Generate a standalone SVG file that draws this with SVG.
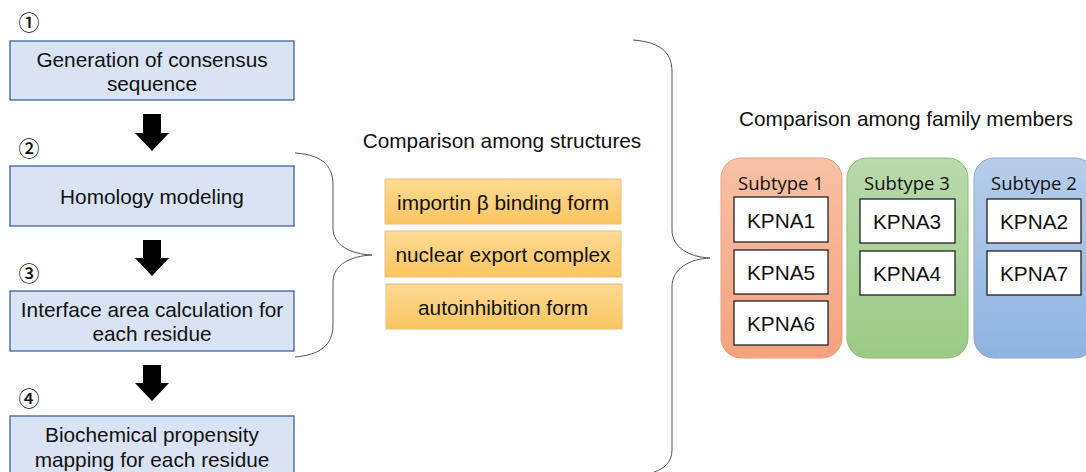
<svg xmlns="http://www.w3.org/2000/svg" width="1086" height="472" viewBox="0 0 1086 472">
<defs>
<style>
.step{fill:#dae3f3;stroke:#2f5597;stroke-width:1.2}
.t{font-family:"Liberation Sans",Arial,sans-serif;fill:#111;text-anchor:middle;dominant-baseline:central}
.s{font-size:20.8px}
.num{font-family:"Noto Sans CJK JP","Noto Sans CJK SC",sans-serif;font-size:21px;font-weight:500;fill:#111;text-anchor:middle;dominant-baseline:central}
.orange{fill:url(#og);stroke:#e8c07a;stroke-width:1}
.kp{fill:#fff;stroke:#222;stroke-width:1.3}
.brace{fill:none;stroke:#555;stroke-width:1}
.arrow{fill:#000}
.sub{font-family:"Open Sans","Noto Sans",sans-serif;font-size:18.5px;fill:#111;text-anchor:middle;dominant-baseline:central}
</style>
<linearGradient id="og" x1="0" y1="0" x2="0" y2="1"><stop offset="0" stop-color="#fedb95"/><stop offset="1" stop-color="#fac55f"/></linearGradient>
<linearGradient id="rg" x1="0" y1="0" x2="0" y2="1"><stop offset="0" stop-color="#f8c1a6"/><stop offset="1" stop-color="#f4a27e"/></linearGradient>
<linearGradient id="gg" x1="0" y1="0" x2="0" y2="1"><stop offset="0" stop-color="#bad9ac"/><stop offset="1" stop-color="#9ccb86"/></linearGradient>
<linearGradient id="bg" x1="0" y1="0" x2="0" y2="1"><stop offset="0" stop-color="#b7cdea"/><stop offset="1" stop-color="#8fb3e0"/></linearGradient>
</defs>
<rect width="1086" height="472" fill="#fff"/>

<g id="connectors">
<path class="arrow" d="M143,114 H161 V133 H169 L152,151 L135,133 H143 Z"/>
<path class="arrow" d="M143,240 H161 V258 H169 L152,276 L135,258 H143 Z"/>
<path class="arrow" d="M143,365 H161 V383 H169 L152,401 L135,383 H143 Z"/>
<path class="brace" d="M295,153 C325,155 333,168 333,185 V228 C333,245 350,254 372,255 C350,256 333,265 333,282 V325 C333,345 320,355 295,357"/>
<path class="brace" d="M633,40 C660,42 672,52 672,72 V230 C672,248 690,257 710,258 C690,259 672,268 672,287 V450 C672,462 664,469 654,472"/>
</g>

<g id="step1"><rect class="step" x="10" y="41" width="284" height="59"/>
<text class="t s" x="152" y="59">Generation of consensus</text><text class="t s" x="152" y="83">sequence</text>
<text class="num" x="29" y="21">①</text></g>
<g id="step2"><rect class="step" x="10" y="166" width="284" height="60"/>
<text class="t s" x="152" y="196">Homology modeling</text>
<text class="num" x="29" y="147">②</text></g>
<g id="step3"><rect class="step" x="10" y="291" width="284" height="60"/>
<text class="t s" x="152" y="309">Interface area calculation for</text><text class="t s" x="152" y="333">each residue</text>
<text class="num" x="29" y="272">③</text></g>
<g id="step4"><rect class="step" x="10" y="416" width="284" height="70"/>
<text class="t s" x="152" y="434">Biochemical propensity</text><text class="t s" x="152" y="459">mapping for each residue</text>
<text class="num" x="29" y="397">④</text></g>

<g id="structures">
<text class="t s" x="502" y="140">Comparison among structures</text>
<g id="s1"><rect class="orange" x="385" y="179" width="236" height="45"/><text class="t s" x="503" y="202">importin β binding form</text></g>
<g id="s2"><rect class="orange" x="385" y="231" width="236" height="46"/><text class="t s" x="503" y="254">nuclear export complex</text></g>
<g id="s3"><rect class="orange" x="386" y="284" width="236" height="45"/><text class="t s" x="503" y="307">autoinhibition form</text></g>
</g>

<g id="family">
<text class="t s" x="906" y="118">Comparison among family members</text>
<g id="subtype1"><rect x="721" y="158" width="121" height="200" rx="20" fill="url(#rg)" stroke="#e8a080" stroke-width="1"/>
<text class="sub" x="781" y="182">Subtype 1</text>
<rect class="kp" x="734" y="197" width="94" height="45"/><text class="t s" x="781" y="220">KPNA1</text>
<rect class="kp" x="734" y="250" width="94" height="44"/><text class="t s" x="781" y="272">KPNA5</text>
<rect class="kp" x="734" y="301" width="94" height="44"/><text class="t s" x="781" y="323">KPNA6</text></g>
<g id="subtype3"><rect x="847" y="158" width="121" height="200" rx="20" fill="url(#gg)" stroke="#8cbf78" stroke-width="1"/>
<text class="sub" x="907" y="182">Subtype 3</text>
<rect class="kp" x="860" y="199" width="95" height="44"/><text class="t s" x="907" y="221">KPNA3</text>
<rect class="kp" x="860" y="251" width="95" height="44"/><text class="t s" x="907" y="273">KPNA4</text></g>
<g id="subtype2"><rect x="974" y="158" width="121" height="200" rx="20" fill="url(#bg)" stroke="#88aad8" stroke-width="1"/>
<text class="sub" x="1034" y="182">Subtype 2</text>
<rect class="kp" x="987" y="199" width="94" height="44"/><text class="t s" x="1034" y="221">KPNA2</text>
<rect class="kp" x="987" y="251" width="94" height="44"/><text class="t s" x="1034" y="273">KPNA7</text></g>
</g>
</svg>
